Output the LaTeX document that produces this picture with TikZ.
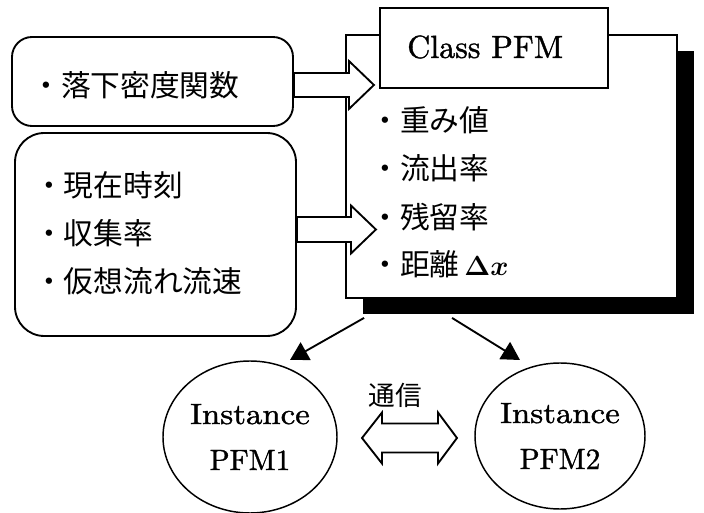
\documentclass[tikz,border=0pt]{standalone}
\usepackage{fontspec}
\newfontfamily\jp{Noto Sans CJK JP}
\newfontfamily\lat{lmroman10-regular.otf}[FakeBold=1.2]
\usetikzlibrary{shapes.geometric,arrows.meta,calc,shadows}
\begin{document}
\begin{tikzpicture}[x=0.75pt,y=-0.75pt,
  box/.style={draw, line width=1.4pt, inner sep=0pt},
  jtext/.style={font=\jp\fontsize{22.3pt}{26pt}\selectfont, anchor=west, inner sep=0pt},
  blk/.style={draw, fill=white, line width=1.4pt, line join=miter},
  inst/.style={draw, ellipse, line width=1.1pt, inner sep=0pt, align=center, font=\lat\fontsize{22pt}{34.5pt}\selectfont},
  tri/.style={line width=1.4pt, -{Triangle[length=13.5pt,width=15pt]}}
]
\useasboundingbox (0,0) rectangle (704,513);
% left boxes
\node[box, rounded corners=15pt, minimum width=210.75pt, minimum height=66.75pt] (top) at (152.5,81.5) {};
\node[box, rounded corners=22pt, minimum width=210.75pt, minimum height=152.25pt] (bot) at (155.5,234.5) {};
% big class box with shadow
\node[box, fill=white, general shadow={fill=black, shadow xshift=12.75pt, shadow yshift=-12pt},
      minimum width=248.25pt, minimum height=197.25pt] (big) at (511.5,166.5) {};
\node[box, fill=white, minimum width=171pt, minimum height=60pt] (cls) at (494,48) {};
\node[anchor=west, inner sep=0pt, font=\lat\fontsize{24pt}{28pt}\selectfont] (clsl) at (407,47) {Class PFM};
% texts
\node[jtext] (t1) at (31,85) {・落下密度関数};
\node[jtext] (b1) at (34,185) {・現在時刻};
\node[jtext] (b2) at (34,233) {・収集率};
\node[jtext] (b3) at (34,281) {・仮想流れ流速};
\node[jtext] (k1) at (370,120) {・重み値};
\node[jtext] (k2) at (370,168) {・流出率};
\node[jtext] (k3) at (370,217) {・残留率};
\node[jtext] (k4) at (370,264) {・距離\,{\boldmath$\Delta x$}};
% block arrows
\coordinate (a1) at (top.east |- 0,85);
\draw[blk] ($(a1)+(0,-12)$) -- ++(55,0) -- ++(0,-12) -- ++(25,24) -- ++(-25,24) -- ++(0,-12) -- ++(-55,0) -- cycle;
\coordinate (a2) at (bot.east |- 0,229.5);
\draw[blk] ($(a2)+(0,-12.5)$) -- ++(54,0) -- ++(0,-11.5) -- ++(25,24) -- ++(-25,24) -- ++(0,-11.5) -- ++(-54,0) -- cycle;
% instances
\node[inst, minimum width=130.5pt, minimum height=114pt] (c1) at (250,437) {\scalebox{1.12}[1]{Instance}\\PFM1};
\node[inst, minimum width=127.5pt, minimum height=109.5pt] (c2) at (560,436) {\scalebox{1.12}[1]{Instance}\\PFM2};
% diagonal arrows
\coordinate (s1) at ($(big.south west)+(19,19)$);
\coordinate (e1) at (290,360);
\draw[tri] (s1) -- (e1);
\coordinate (s2) at ($(big.south west)+(107,19)$);
\coordinate (e2) at (520,360);
\draw[tri] (s2) -- (e2);
% communication
\coordinate (m) at ($($(c1.east)!0.5!(c2.west)$)+(3.5,1.5)$);
\draw[blk] ($(m)+(-47.5,0)$) -- ++(20,-25.5) -- ++(0,11) -- ++(56,0) -- ++(0,-11) -- ++(19,25.5) -- ++(-19,25.5) -- ++(0,-11) -- ++(-56,0) -- ++(0,11) -- cycle;
\node[font=\jp\fontsize{20pt}{24pt}\selectfont, inner sep=0pt] (comm) at (395,395) {通信};
\end{tikzpicture}
\end{document}
